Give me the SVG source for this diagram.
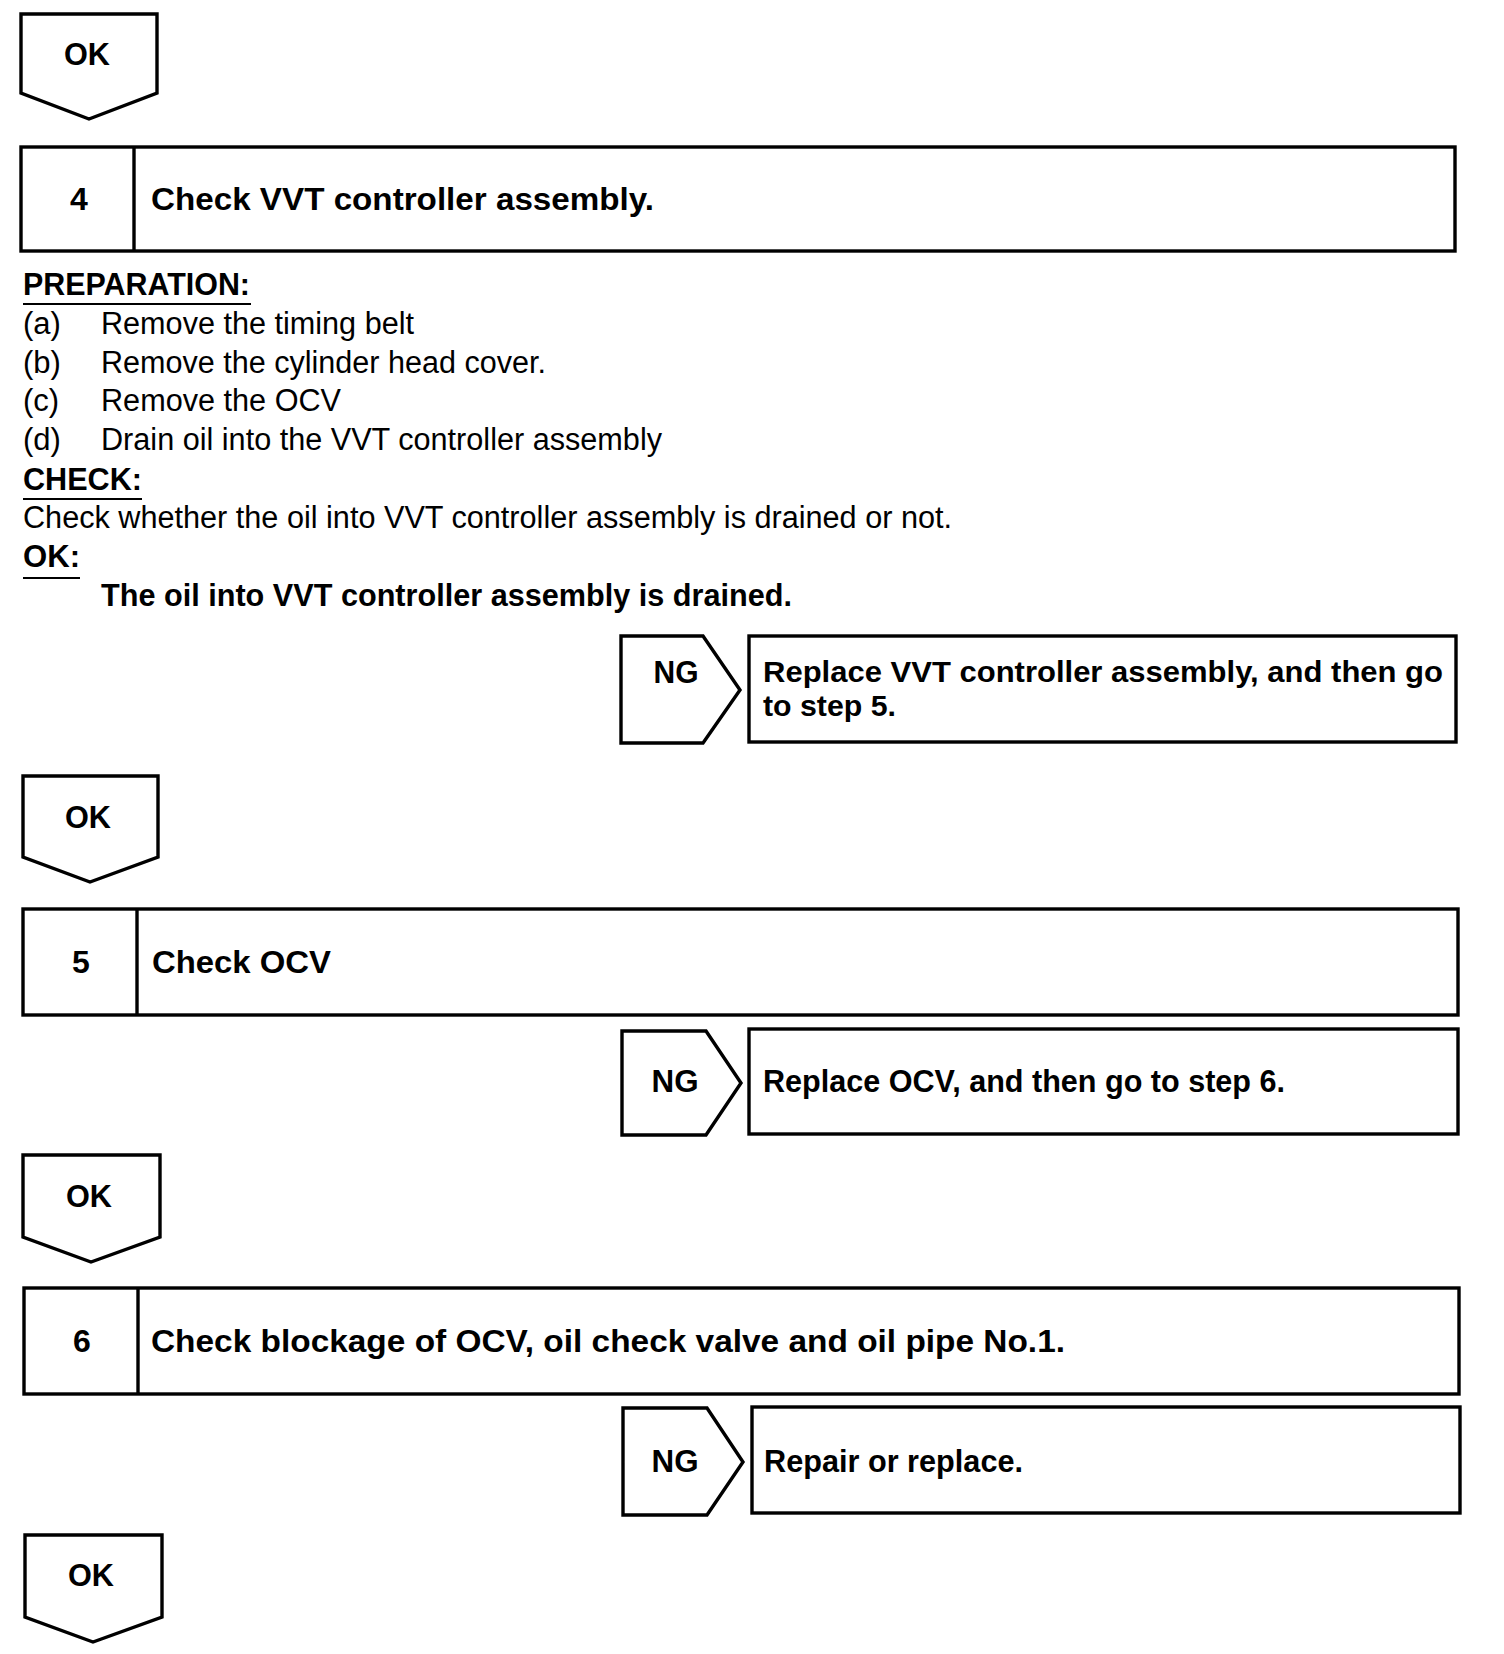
<svg xmlns="http://www.w3.org/2000/svg" width="1504" height="1654" viewBox="0 0 1504 1654">
<style>
.shape{fill:#fff;stroke:#000;stroke-width:3.4;stroke-linejoin:miter}
.line{stroke:#000;stroke-width:3.4;fill:none}
.ul{stroke:#000;stroke-width:2}
.b{font-family:"Liberation Sans",Arial,Helvetica,sans-serif;font-weight:bold;font-size:32px;fill:#000}
.r{font-family:"Liberation Sans",Arial,Helvetica,sans-serif;font-size:31px;fill:#000}
.t2{font-size:30px}
.c{text-anchor:middle}
</style>
<rect width="1504" height="1654" fill="#fff"/>
<g id="connectors"></g>

<g id="ok1">
<polygon class="shape" points="21,14 157,14 157,93 89,119 21,93"/>
<text class="b c" x="87" y="65" textLength="46" lengthAdjust="spacingAndGlyphs">OK</text>
</g>

<g id="step4">
<rect class="shape" x="21" y="147" width="1434" height="104"/>
<line class="line" x1="134" y1="147" x2="134" y2="251"/>
<text class="b c" x="79" y="210">4</text>
<text class="b" x="151" y="210" textLength="503" lengthAdjust="spacingAndGlyphs">Check VVT controller assembly.</text>
</g>

<g id="step4-detail">
<text class="b" x="23" y="295" textLength="227" lengthAdjust="spacingAndGlyphs">PREPARATION:</text>
<line class="ul" x1="23" y1="304" x2="251" y2="304"/>
<text class="r" x="23" y="334">(a)</text>
<text class="r" x="101" y="334" textLength="313" lengthAdjust="spacingAndGlyphs">Remove the timing belt</text>
<text class="r" x="23" y="373">(b)</text>
<text class="r" x="101" y="373" textLength="445" lengthAdjust="spacingAndGlyphs">Remove the cylinder head cover.</text>
<text class="r" x="23" y="411">(c)</text>
<text class="r" x="101" y="411" textLength="240" lengthAdjust="spacingAndGlyphs">Remove the OCV</text>
<text class="r" x="23" y="450">(d)</text>
<text class="r" x="101" y="450" textLength="561" lengthAdjust="spacingAndGlyphs">Drain oil into the VVT controller assembly</text>
<text class="b" x="23" y="490" textLength="119" lengthAdjust="spacingAndGlyphs">CHECK:</text>
<line class="ul" x1="23" y1="499" x2="142" y2="499"/>
<text class="r" x="23" y="528" textLength="929" lengthAdjust="spacingAndGlyphs">Check whether the oil into VVT controller assembly is drained or not.</text>
<text class="b" x="23" y="567" textLength="57" lengthAdjust="spacingAndGlyphs">OK:</text>
<line class="ul" x1="23" y1="578" x2="80" y2="578"/>
<text class="b" x="101" y="606" textLength="691" lengthAdjust="spacingAndGlyphs">The oil into VVT controller assembly is drained.</text>
</g>

<g id="ng1">
<polygon class="shape" points="621,636 703,636 740,690 703,743 621,743"/>
<text class="b c" x="676" y="683" textLength="45" lengthAdjust="spacingAndGlyphs">NG</text>
</g>
<g id="action1">
<rect class="shape" x="749" y="636" width="707" height="106"/>
<text class="b t2" x="763" y="682" textLength="680" lengthAdjust="spacingAndGlyphs">Replace VVT controller assembly, and then go</text>
<text class="b t2" x="763" y="716" textLength="133" lengthAdjust="spacingAndGlyphs">to step 5.</text>
</g>

<g id="ok2">
<polygon class="shape" points="23,776 158,776 158,857 90,882 23,857"/>
<text class="b c" x="88" y="828" textLength="46" lengthAdjust="spacingAndGlyphs">OK</text>
</g>

<g id="step5">
<rect class="shape" x="23" y="909" width="1435" height="106"/>
<line class="line" x1="137" y1="909" x2="137" y2="1015"/>
<text class="b c" x="81" y="973">5</text>
<text class="b" x="152" y="973" textLength="179" lengthAdjust="spacingAndGlyphs">Check OCV</text>
</g>

<g id="ng2">
<polygon class="shape" points="622,1031 706,1031 741,1083 706,1135 622,1135"/>
<text class="b c" x="675" y="1092" textLength="47" lengthAdjust="spacingAndGlyphs">NG</text>
</g>
<g id="action2">
<rect class="shape" x="749" y="1029" width="709" height="105"/>
<text class="b" x="763" y="1092" textLength="522" lengthAdjust="spacingAndGlyphs">Replace OCV, and then go to step 6.</text>
</g>

<g id="ok3">
<polygon class="shape" points="23,1155 160,1155 160,1237 91,1262 23,1237"/>
<text class="b c" x="89" y="1207" textLength="46" lengthAdjust="spacingAndGlyphs">OK</text>
</g>

<g id="step6">
<rect class="shape" x="24" y="1288" width="1435" height="106"/>
<line class="line" x1="138" y1="1288" x2="138" y2="1394"/>
<text class="b c" x="82" y="1352">6</text>
<text class="b" x="151" y="1352" textLength="914" lengthAdjust="spacingAndGlyphs">Check blockage of OCV, oil check valve and oil pipe No.1.</text>
</g>

<g id="ng3">
<polygon class="shape" points="623,1408 707,1408 743,1462 707,1515 623,1515"/>
<text class="b c" x="675" y="1472" textLength="47" lengthAdjust="spacingAndGlyphs">NG</text>
</g>
<g id="action3">
<rect class="shape" x="752" y="1407" width="708" height="106"/>
<text class="b" x="764" y="1472" textLength="259" lengthAdjust="spacingAndGlyphs">Repair or replace.</text>
</g>

<g id="ok4">
<polygon class="shape" points="25,1535 162,1535 162,1617 93,1642 25,1617"/>
<text class="b c" x="91" y="1586" textLength="46" lengthAdjust="spacingAndGlyphs">OK</text>
</g>
</svg>
